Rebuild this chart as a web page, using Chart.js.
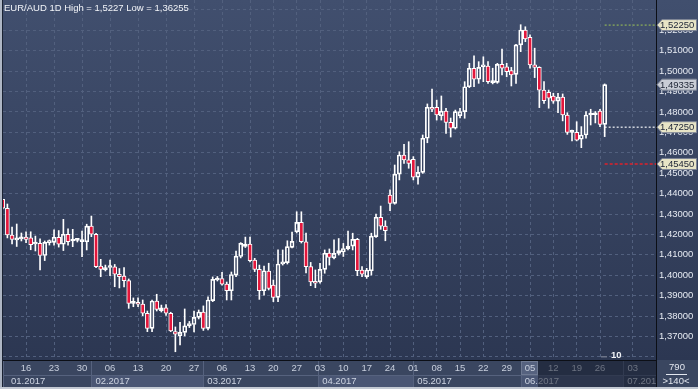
<!DOCTYPE html>
<html>
<head>
<meta charset="utf-8">
<script src="https://cdn.jsdelivr.net/npm/chart.js@4.4.1/dist/chart.umd.min.js"></script>
<style>
  html, body { margin: 0; padding: 0; background: #2e3a55; }
  canvas { display: block; }
</style>
</head>
<body>
<canvas id="chart" width="698" height="389"></canvas>
<script>
// EUR/AUD daily candles, 10.01.2017 - 27.06.2017 (one entry per trading session)
const opens = [
  1.4372, 1.4328, 1.4197, 1.4173, 1.4178, 1.4187, 1.4183, 1.4153, 1.4157, 1.4097,
  1.4160, 1.4161, 1.4186, 1.4152, 1.4201, 1.4168, 1.4171, 1.4165, 1.4164, 1.4241,
  1.4201, 1.4045, 1.4028, 1.4038, 1.4041, 1.4005, 1.3996, 1.3974, 1.3862, 1.3868,
  1.3859, 1.3814, 1.3740, 1.3874, 1.3827, 1.3840, 1.3814, 1.3724, 1.3704, 1.3720,
  1.3752, 1.3759, 1.3794, 1.3820, 1.3740, 1.3876, 1.3977, 1.3984, 1.3957, 1.3924,
  1.4001, 1.4092, 1.4141, 1.4153, 1.4075, 1.4029, 1.3924, 1.4021, 1.3952, 1.3892,
  1.4055, 1.4062, 1.4137, 1.4213, 1.4259, 1.4164, 1.4042, 1.3968, 1.3968, 1.4029,
  1.4109, 1.4085, 1.4107, 1.4114, 1.4129, 1.4143, 1.4176, 1.4026, 1.3993, 1.4022,
  1.4189, 1.4284, 1.4241, 1.4393, 1.4352, 1.4495, 1.4589, 1.4565, 1.4568, 1.4480,
  1.4504, 1.4671, 1.4823, 1.4823, 1.4781, 1.4804, 1.4749, 1.4720, 1.4781, 1.4801,
  1.4923, 1.5014, 1.4960, 1.5021, 1.5025, 1.4943, 1.4945, 1.5033, 1.5021, 1.5002,
  1.4984, 1.5128, 1.5201, 1.5165, 1.5030, 1.5018, 1.4907, 1.4896, 1.4878, 1.4853,
  1.4872, 1.4785, 1.4700, 1.4700, 1.4666, 1.4687, 1.4785, 1.4786, 1.4804, 1.4739
];
const highs = [
  1.4372, 1.4349, 1.4236, 1.4251, 1.4207, 1.4213, 1.4213, 1.4192, 1.4178, 1.4168,
  1.4173, 1.4222, 1.4219, 1.4274, 1.4228, 1.4225, 1.4178, 1.4217, 1.4250, 1.4290,
  1.4206, 1.4078, 1.4050, 1.4075, 1.4053, 1.4033, 1.4038, 1.3982, 1.3889, 1.3890,
  1.3879, 1.3825, 1.3879, 1.3907, 1.3854, 1.3857, 1.3819, 1.3747, 1.3769, 1.3835,
  1.3774, 1.3825, 1.3830, 1.3850, 1.3894, 1.3992, 1.3994, 1.4014, 1.3967, 1.4016,
  1.4119, 1.4160, 1.4187, 1.4187, 1.4083, 1.4050, 1.4045, 1.4059, 1.3977, 1.4124,
  1.4124, 1.4169, 1.4212, 1.4311, 1.4311, 1.4207, 1.4063, 1.4026, 1.4059, 1.4124,
  1.4129, 1.4173, 1.4180, 1.4156, 1.4217, 1.4206, 1.4181, 1.4042, 1.4034, 1.4206,
  1.4300, 1.4339, 1.4267, 1.4418, 1.4540, 1.4605, 1.4641, 1.4654, 1.4581, 1.4532,
  1.4687, 1.4839, 1.4912, 1.4858, 1.4878, 1.4818, 1.4770, 1.4809, 1.4817, 1.4948,
  1.5038, 1.5074, 1.5046, 1.5070, 1.5046, 1.5014, 1.5038, 1.5108, 1.5038, 1.5018,
  1.5131, 1.5227, 1.5217, 1.5177, 1.5112, 1.5021, 1.4948, 1.4907, 1.4891, 1.4891,
  1.4888, 1.4796, 1.4711, 1.4752, 1.4728, 1.4801, 1.4813, 1.4802, 1.4813, 1.4937
];
const lows = [
  1.4325, 1.4183, 1.4153, 1.4141, 1.4168, 1.4160, 1.4125, 1.4119, 1.4026, 1.4072,
  1.4148, 1.4148, 1.4138, 1.4121, 1.4147, 1.4140, 1.4163, 1.4091, 1.4124, 1.4189,
  1.4037, 1.3993, 1.4021, 1.3998, 1.3944, 1.3938, 1.3943, 1.3838, 1.3846, 1.3846,
  1.3802, 1.3724, 1.3724, 1.3825, 1.3820, 1.3803, 1.3724, 1.36255, 1.3659, 1.3703,
  1.3744, 1.3722, 1.3786, 1.3730, 1.3732, 1.3871, 1.3972, 1.3952, 1.3879, 1.3879,
  1.3993, 1.4085, 1.4136, 1.4065, 1.4018, 1.3882, 1.3903, 1.3928, 1.3871, 1.3871,
  1.4050, 1.4055, 1.4134, 1.4207, 1.4158, 1.4011, 1.3949, 1.3939, 1.3961, 1.4010,
  1.4050, 1.4080, 1.4099, 1.4092, 1.4124, 1.4124, 1.3998, 1.3993, 1.3985, 1.4001,
  1.4185, 1.4225, 1.4169, 1.4316, 1.4348, 1.4467, 1.4548, 1.4524, 1.4467, 1.4446,
  1.4499, 1.4649, 1.4801, 1.4760, 1.4760, 1.4695, 1.4677, 1.4716, 1.4770, 1.4769,
  1.4919, 1.4923, 1.4940, 1.4948, 1.4940, 1.4937, 1.4940, 1.4981, 1.4972, 1.4927,
  1.4940, 1.5095, 1.5144, 1.5014, 1.4968, 1.4821, 1.4842, 1.4818, 1.4842, 1.4796,
  1.4756, 1.4690, 1.4658, 1.4658, 1.4625, 1.4671, 1.4736, 1.4746, 1.4728, 1.4679
];
const closes = [
  1.4328, 1.4197, 1.4175, 1.4180, 1.4184, 1.4176, 1.4150, 1.4160, 1.4097, 1.4161,
  1.4168, 1.4186, 1.4152, 1.4201, 1.4164, 1.4169, 1.4174, 1.4169, 1.4241, 1.4201,
  1.4042, 1.4029, 1.4031, 1.4045, 1.4005, 1.3993, 1.3973, 1.3862, 1.3863, 1.3858,
  1.3814, 1.3740, 1.3874, 1.3833, 1.3840, 1.3814, 1.3727, 1.3712, 1.3720, 1.3752,
  1.3764, 1.3794, 1.3820, 1.3740, 1.3879, 1.3980, 1.3983, 1.3957, 1.3925, 1.4004,
  1.4094, 1.4156, 1.4153, 1.4072, 1.4029, 1.3924, 1.4022, 1.3936, 1.3892, 1.4055,
  1.4066, 1.4140, 1.4166, 1.4259, 1.4164, 1.4042, 1.3968, 1.3961, 1.4029, 1.4108,
  1.4087, 1.4107, 1.4121, 1.4131, 1.4143, 1.4176, 1.4022, 1.4006, 1.4026, 1.4192,
  1.4284, 1.4241, 1.4218, 1.4352, 1.4495, 1.4589, 1.4565, 1.4548, 1.4480, 1.4504,
  1.4671, 1.4823, 1.4813, 1.4785, 1.4804, 1.4749, 1.4720, 1.4801, 1.4802, 1.4923,
  1.5014, 1.4960, 1.5018, 1.5030, 1.4948, 1.4948, 1.5033, 1.5014, 1.4997, 1.4981,
  1.5128, 1.5201, 1.5157, 1.5030, 1.5018, 1.4907, 1.4855, 1.4867, 1.4853, 1.4872,
  1.4785, 1.4700, 1.4702, 1.4662, 1.4687, 1.4785, 1.4788, 1.4789, 1.4739, 1.49335
];

// x axis: session index of each Monday + its day label
const weekTickIdx = [5, 11, 17, 23, 29, 35, 41, 47, 53, 58, 63, 68, 73, 78, 83, 88, 93, 98, 103, 108, 113, 118, 123, 128, 135];
const weekTickLabels = ['16', '23', '30', '06', '13', '20', '27', '06', '13', '20', '27', '03', '10', '17', '24', '01', '08', '15', '22', '29', '05', '12', '19', '26', '03'];
const monthStartIdx = [-3, 19, 43, 67.6, 88, 111, 133];
const monthLabels = ['01.2017', '02.2017', '03.2017', '04.2017', '05.2017', '06.2017', '07.2017'];

// y axis grid values
const yGridValues = [1.36, 1.37, 1.38, 1.39, 1.40, 1.41, 1.42, 1.43, 1.44, 1.45, 1.46, 1.47, 1.48, 1.49, 1.50, 1.51, 1.52, 1.53];

// price levels on the right
const levelValues = [1.5225, 1.4725, 1.4545];
const levelLabels = ['1,52250', '1,47250', '1,45450'];
const levelColors = ['#7f9e5c', '#cfd3dc', '#e0202a'];
const lastPrice = 1.49335;

const titleText = 'EUR/AUD 1D High = 1,5227 Low = 1,36255';
const FONT = "'Liberation Sans', Arial, sans-serif";
const FS = 9.5;

Chart.defaults.font.family = FONT;
Chart.defaults.font.size = FS;

const bodyData = opens.map((o, i) => ({ x: i, y: [o, closes[i]] }));
const bodyFill = opens.map((o, i) => closes[i] < o ? '#e3163b' : 'rgba(0,0,0,0)');
const upperWick = highs.map((h, i) => ({ x: i, y: [Math.max(opens[i], closes[i]), h] }));
const lowerWick = lows.map((l, i) => ({ x: i, y: [l, Math.min(opens[i], closes[i])] }));

const levelSets = levelValues.map((v, k) => ({
  type: 'line',
  data: [{ x: 129, y: v }, { x: 140, y: v }],
  borderColor: levelColors[k],
  borderWidth: 1.5,
  borderDash: k === 2 ? [3, 2] : [2, 2],
  pointRadius: 0,
  order: 2
}));

function drawTag(ctx, y, text, fill) {
  ctx.beginPath();
  ctx.moveTo(657, y);
  ctx.lineTo(662, y - 5.5);
  ctx.lineTo(696.5, y - 5.5);
  ctx.lineTo(696.5, y + 5.5);
  ctx.lineTo(662, y + 5.5);
  ctx.closePath();
  ctx.fillStyle = fill;
  ctx.fill();
  ctx.strokeStyle = '#7d8496';
  ctx.lineWidth = 1;
  ctx.stroke();
  ctx.fillStyle = '#1c2334';
  ctx.textAlign = 'left';
  ctx.textBaseline = 'middle';
  ctx.fillText(text, 660, y + 0.5);
}

const framePlugin = {
  id: 'frame',
  beforeDraw(chart) {
    const { ctx, chartArea: a, width, height } = chart;
    const x = chart.scales.x;
    ctx.save();
    const g = ctx.createLinearGradient(0, 0, 0, a.bottom);
    g.addColorStop(0, '#414f6e');
    g.addColorStop(1, '#2c3752');
    ctx.fillStyle = g;
    ctx.fillRect(0, 0, width, a.bottom);
    // bottom strip
    ctx.fillStyle = '#3a4660';
    ctx.fillRect(0, a.bottom, width, height - a.bottom);
    // month boxes
    const edges = monthStartIdx.map(v => Math.max(a.left, x.getPixelForValue(v)));
    for (let k = 0; k < edges.length; k++) {
      const x0 = edges[k];
      const x1 = k + 1 < edges.length ? edges[k + 1] : a.right;
      ctx.fillStyle = k % 2 === 1 ? '#4a5674' : '#3a4660';
      ctx.fillRect(x0, 375, x1 - x0, 12);
      ctx.strokeStyle = '#56627e';
      ctx.lineWidth = 1;
      ctx.beginPath();
      ctx.moveTo(Math.round(x0) + 0.5, a.bottom);
      ctx.lineTo(Math.round(x0) + 0.5, 387);
      ctx.stroke();
    }
    ctx.strokeStyle = '#56627e';
    ctx.beginPath();
    ctx.moveTo(a.left, 375.5);
    ctx.lineTo(a.right, 375.5);
    ctx.stroke();
    // highlighted day cell
    const hx = x.getPixelForValue(weekTickIdx[20]);
    ctx.fillStyle = '#56627f';
    ctx.fillRect(hx - 9, 361, 17, 14);
    ctx.strokeStyle = '#6e7992';
    ctx.strokeRect(hx - 8.5, 361.5, 16, 13);
    ctx.restore();
  },
  afterDraw(chart) {
    const { ctx, chartArea: a, width, height } = chart;
    const x = chart.scales.x;
    const y = chart.scales.y;
    ctx.save();
    ctx.font = FS + 'px ' + FONT;
    ctx.textBaseline = 'middle';
    // month labels
    ctx.save();
    ctx.beginPath();
    ctx.rect(a.left, a.bottom, a.right - a.left, height - a.bottom);
    ctx.clip();
    ctx.fillStyle = '#cdd4e2';
    ctx.textAlign = 'left';
    monthStartIdx.forEach((v, k) => {
      const px = Math.max(7, x.getPixelForValue(v));
      ctx.fillText(monthLabels[k], px + 4, 381.5);
    });
    // greyed out part of the time strip
    const gx = x.getPixelForValue(weekTickIdx[20]) + 8;
    ctx.fillStyle = 'rgba(14,20,36,0.5)';
    ctx.fillRect(gx, a.bottom + 1, a.right - gx, height - a.bottom - 3);
    ctx.restore();
    // frame lines
    ctx.fillStyle = '#0c0f16';
    ctx.fillRect(a.right, 0, 1, height);
    ctx.fillRect(a.left, a.bottom, a.right - a.left, 1);
    ctx.fillStyle = '#aeb6c4';
    ctx.fillRect(0, 0, 2, height);
    ctx.fillStyle = '#1a2232';
    ctx.fillRect(2, 0, 1, height);
    ctx.fillStyle = '#c3c9d3';
    ctx.fillRect(0, height - 2, width, 2);
    // title
    ctx.fillStyle = '#f2f4f8';
    ctx.textAlign = 'left';
    ctx.fillText(titleText, 4, 8);
    // volume marker
    ctx.fillStyle = '#6c7488';
    ctx.fillRect(601, 356, 6, 1.5);
    ctx.fillStyle = '#f2f4f8';
    ctx.font = 'bold ' + FS + 'px ' + FONT;
    ctx.fillText('10', 611, 355);
    // corner box
    ctx.font = FS + 'px ' + FONT;
    ctx.textAlign = 'center';
    ctx.fillStyle = '#e3e7ef';
    ctx.fillText('790', 677, 367);
    ctx.fillRect(666, 374, 21, 1);
    ctx.fillText('>140<', 676, 381);
    // price tags
    ctx.textAlign = 'left';
    levelValues.forEach((v, k) => drawTag(ctx, y.getPixelForValue(v), levelLabels[k], '#e7e4c6'));
    drawTag(ctx, y.getPixelForValue(lastPrice), lastPrice.toFixed(5).replace('.', ','), '#c9cdd6');
    ctx.restore();
  }
};

new Chart(document.getElementById('chart'), {
  type: 'bar',
  data: {
    datasets: [
      {
        data: bodyData,
        backgroundColor: bodyFill,
        borderColor: '#ffffff',
        borderWidth: 1,
        borderSkipped: false,
        barThickness: 4,
        minBarLength: 2,
        grouped: false,
        order: 0
      },
      {
        data: upperWick,
        backgroundColor: '#ffffff',
        borderWidth: 0,
        barThickness: 1,
        grouped: false,
        order: 1
      },
      {
        data: lowerWick,
        backgroundColor: '#ffffff',
        borderWidth: 0,
        barThickness: 1,
        grouped: false,
        order: 1
      },
      ...levelSets
    ]
  },
  options: {
    responsive: false,
    animation: false,
    layout: { padding: { left: 3, top: 0, right: 0, bottom: 0 } },
    plugins: {
      legend: { display: false },
      tooltip: { enabled: false },
      title: { display: false }
    },
    scales: {
      x: {
        type: 'linear',
        offset: false,
        min: 0.06,
        max: 140,
        afterFit(s) {
          s.height = 29;
          s.paddingLeft = 0;
          s.paddingRight = 0;
        },
        afterBuildTicks(s) { s.ticks = weekTickIdx.map(v => ({ value: v })); },
        grid: { color: '#52607e', drawTicks: false, offset: false },
        border: { display: false, dash: [3, 3] },
        ticks: {
          autoSkip: false,
          maxRotation: 0,
          padding: 3,
          color: '#c8cfdd',
          callback: (v, i) => weekTickLabels[i]
        }
      },
      y: {
        position: 'right',
        min: 1.35851,
        max: 1.5348,
        afterFit(s) {
          s.width = 42;
          s.paddingTop = 0;
          s.paddingBottom = 0;
        },
        afterBuildTicks(s) { s.ticks = yGridValues.map(v => ({ value: v })); },
        grid: { color: '#52607e', drawTicks: false },
        border: { display: false, dash: [3, 3] },
        ticks: {
          autoSkip: false,
          padding: 3,
          color: '#e6eaf2',
          callback: v => (v < 1.365 || v > 1.525) ? '' : v.toFixed(5).replace('.', ',')
        }
      }
    }
  },
  plugins: [framePlugin]
});
</script>
</body>
</html>
